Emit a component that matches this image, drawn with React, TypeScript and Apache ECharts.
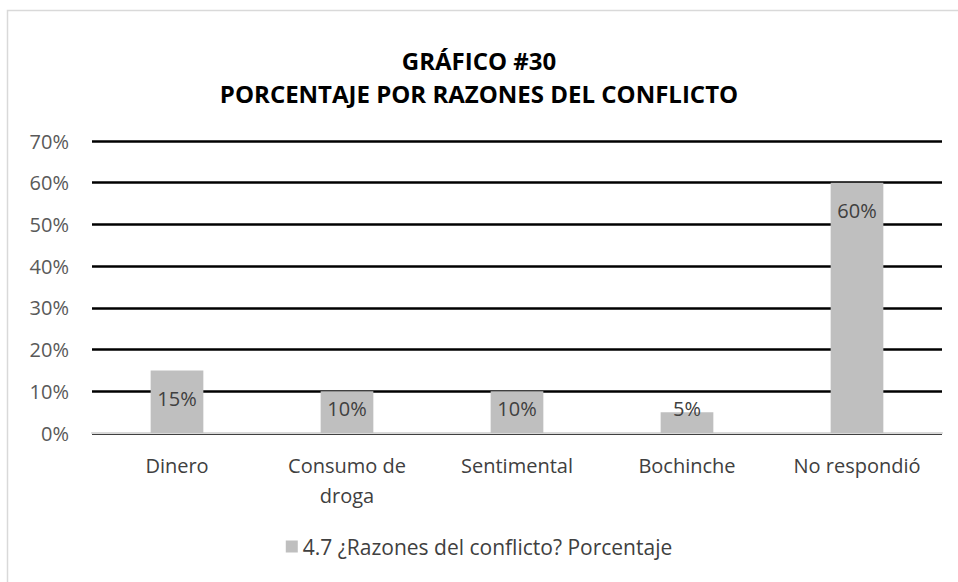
import React, { useEffect, useRef } from "react";
import * as echarts from "echarts";

const titleLines = ["GRÁFICO #30", "PORCENTAJE POR RAZONES DEL CONFLICTO"];
const categories = ["Dinero", "Consumo de\ndroga", "Sentimental", "Bochinche", "No respondió"];
const values = [15, 10, 10, 5, 60];
const seriesName = "4.7 ¿Razones del conflicto? Porcentaje";
const yTicks = { min: 0, max: 70, interval: 10 };

const FONT = "'Open Sans', 'Noto Sans', sans-serif";

export default function App() {
  const ref = useRef<HTMLDivElement>(null);
  useEffect(() => {
    if (!ref.current) return;
    const chart = echarts.init(ref.current, null, { renderer: "svg" });
    const labelFor = (v: number) => {
      if (v <= 5) return { position: "top", distance: -6 };
      if (v <= 10) return { position: "insideTop", distance: 7 };
      return { position: "insideTop", distance: 18 };
    };
    chart.setOption({
      animation: false,
      backgroundColor: "#ffffff",
      graphic: [
        {
          type: "rect",
          shape: { x: 7.5, y: 10.5, width: 970, height: 590 },
          style: { fill: "none", stroke: "#d9d9d9", lineWidth: 1.5 },
          silent: true,
        },
      ],
      title: titleLines.map((t, i) => ({
        text: t,
        left: "center",
        top: 48.5 + i * 33,
        padding: 0,
        textStyle: {
          fontFamily: FONT,
          fontWeight: "bold",
          fontSize: 24,
          lineHeight: 24,
          color: "#000000",
        },
      })),
      legend: {
        bottom: 20,
        left: "center",
        icon: "rect",
        itemWidth: 12,
        itemHeight: 12,
        itemGap: 6,
        textStyle: { fontFamily: FONT, fontSize: 21, color: "#404040" },
        data: [seriesName],
      },
      grid: { left: 92, right: 16, top: 141, bottom: 149, containLabel: false },
      xAxis: {
        type: "category",
        data: categories,
        axisLine: { show: true, lineStyle: { color: "#d9d9d9", width: 2 } },
        axisTick: { show: false },
        axisLabel: {
          fontFamily: FONT,
          fontSize: 20,
          color: "#404040",
          lineHeight: 30,
          margin: 17,
          interval: 0,
        },
      },
      yAxis: {
        type: "value",
        min: yTicks.min,
        max: yTicks.max,
        interval: yTicks.interval,
        axisLine: { show: false },
        axisTick: { show: false },
        axisLabel: {
          fontFamily: FONT,
          fontSize: 20,
          color: "#595959",
          margin: 23,
          formatter: (v: number) => `${v}%`,
        },
        splitLine: {
          show: true,
          lineStyle: { color: "#000000", width: 2.5 },
        },
      },
      series: [
        {
          name: seriesName,
          type: "bar",
          barWidth: "31%",
          itemStyle: { color: "#bfbfbf" },
          data: values.map((v) => ({
            value: v,
            label: {
              show: true,
              ...labelFor(v),
              formatter: "{c}%",
              fontFamily: FONT,
              fontSize: 20,
              color: "#404040",
            },
          })),
        },
      ],
    });
    return () => chart.dispose();
  }, []);
  return (
    <div
      ref={ref}
      style={{ position: "fixed", left: 0, top: 0, width: 958, height: 582 }}
    />
  );
}
